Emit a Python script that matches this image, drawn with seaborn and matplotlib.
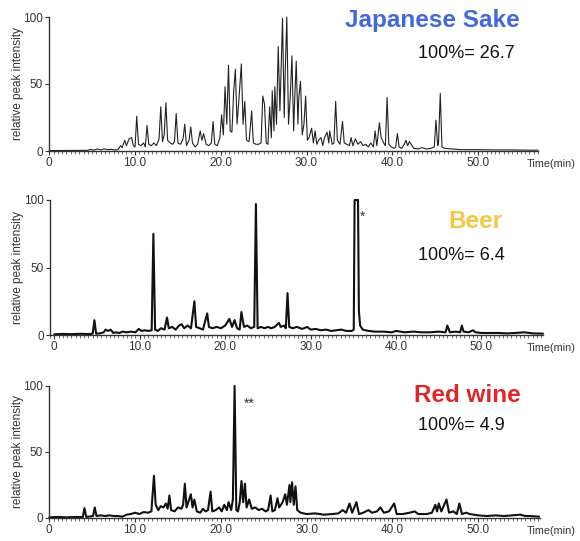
import numpy as np
import pandas as pd
import seaborn as sns
import matplotlib.pyplot as plt
from matplotlib.ticker import MultipleLocator

# retention time (min) and relative peak intensity (%)
sake_time = [0, 4.5, 4.8, 5.2, 5.6, 6.0, 6.4, 6.8, 7.2, 7.6, 8.0,
             8.3, 8.5, 8.8, 9.0, 9.3, 9.6, 9.8, 10.0, 10.2, 10.4,
             10.7, 11.0, 11.2, 11.4, 11.6, 11.9, 12.2, 12.5, 12.8,
             13.0, 13.2, 13.4, 13.6, 13.8, 14.1, 14.4, 14.6,
             14.8, 15.0, 15.3, 15.6, 15.8, 16.0, 16.3, 16.5, 16.7, 17.0, 17.3,
             17.6, 17.8, 18.0, 18.3, 18.6, 18.9, 19.1, 19.3, 19.6, 19.9,
             20.1, 20.3, 20.5, 20.7, 20.9, 21.1, 21.3, 21.5, 21.7, 21.9, 22.1,
             22.4, 22.6, 22.8, 23.0, 23.3, 23.6, 23.8, 24.1, 24.4, 24.7,
             24.9, 25.1, 25.3, 25.5, 25.7, 25.9, 26.0, 26.2, 26.3, 26.5,
             26.7, 26.9, 27.0, 27.2, 27.4, 27.5, 27.7, 27.9, 28.1, 28.3, 28.5,
             28.6, 28.8, 29.0, 29.1, 29.3, 29.5, 29.7, 29.9, 30.1, 30.3,
             30.6, 30.8, 31.0, 31.2, 31.4, 31.7, 31.9, 32.1, 32.4, 32.6, 32.7, 33.0,
             33.2, 33.4, 33.6, 33.9, 34.2, 34.4, 34.7, 35.0, 35.2, 35.4, 35.7,
             36.0, 36.3, 36.6, 36.9, 37.2, 37.5, 37.8, 38.0, 38.2, 38.5, 38.7,
             39.0, 39.2, 39.4, 39.6, 39.9, 40.2, 40.4, 40.6, 40.8, 41.1, 41.4,
             41.6, 41.8, 42.0, 42.5, 43.0, 43.5, 44.0, 44.5, 44.9,
             45.1, 45.3, 45.4, 45.6, 45.8, 46.1, 47, 48, 50, 52, 54, 56, 57]
sake_int = [0.3, 0.5, 1.2, 0.6, 1.5, 0.8, 1.6, 0.9, 1.3, 0.8, 1.0,
            4, 2.5, 8, 4, 9, 10, 4, 3, 26, 5,
            4, 6, 3, 19, 5, 4, 6, 4, 9,
            33, 7, 12, 36, 8, 6, 5, 7,
            28, 6, 5, 9, 20, 4, 8, 18, 6, 3, 5,
            15, 8, 13, 5, 4, 6, 22, 5, 4, 10,
            27, 12, 48, 20, 64, 15, 14, 44, 61, 20, 37,
            65, 20, 37, 8, 7, 30, 6, 5, 5, 6,
            41, 35, 6, 5, 33, 10, 45, 15, 48, 20,
            78, 30, 52, 99, 25, 55, 100, 20, 40, 71, 15,
            35, 67, 20, 40, 52, 12, 20, 41, 8, 10,
            17, 6, 15, 5, 8, 10, 4, 10, 14, 6, 15, 5,
            6, 37, 8, 5, 22, 6, 5, 4, 10, 4, 9,
            5, 7, 4, 5, 3, 6, 3, 15, 4, 21, 10,
            6, 4, 40, 5, 3, 2, 3, 13, 3, 2, 5,
            8, 4, 7, 2, 1.5, 2.5, 1.5, 2, 3,
            23, 4, 6, 43, 3, 2, 1.5, 1, 1, 0.8, 0.8, 0.6, 0.6]

beer_time = [0, 1, 2, 3, 4, 4.5, 4.7, 4.9, 5.3, 5.8, 6.0, 6.3, 6.6, 6.9, 7.2, 7.6,
             8.0, 8.5, 9.0, 9.5, 9.9, 10.2, 10.6, 11.0, 11.4, 11.6, 11.8, 12.1,
             12.5, 12.9, 13.2, 13.4, 13.8, 14.2, 14.6, 14.9, 15.2, 15.6, 16.0,
             16.4, 16.6, 17.0, 17.4, 17.9, 18.1, 18.5, 19.0, 19.5, 20.0, 20.5,
             20.8, 21.1, 21.4, 21.7, 21.9, 22.2, 22.6, 23.0, 23.4, 23.6, 23.8,
             24.2, 24.6, 25.0, 25.4, 25.8, 26.3, 26.5, 26.9, 27.1, 27.3, 27.5,
             27.9, 28.4, 29.0, 29.6, 30.0, 30.6, 31.2, 31.8, 32.4, 33.0, 33.6,
             34.2, 34.8, 35.05, 35.15, 35.55, 35.65, 35.8, 36.1, 36.8, 37.5, 38.5,
             39.5, 40.0, 41, 42, 43, 44, 45, 45.8, 46.0, 46.3, 47, 47.5, 47.7,
             47.9, 48.5, 49.0, 49.3, 50, 51, 52, 53, 54, 55, 56, 57.2]
beer_int = [0.5, 0.8, 0.6, 0.9, 0.7, 1.0, 11, 1.0, 1.2, 2, 4, 3, 4, 1.5, 2, 1.5,
            2.5, 2, 2.5, 2, 4.5, 3, 3.5, 3, 3.5, 75, 4, 3,
            5, 4, 13, 5, 6, 4, 7, 8, 5, 7, 5,
            25, 6, 5, 4, 16, 6, 5, 6, 5, 7, 12,
            6, 11, 5, 4, 17, 6, 7, 5, 6, 97, 5,
            6, 5, 6, 5, 6, 9, 6, 7, 5, 31, 6,
            5, 6, 4.5, 6, 4, 4.5, 3.5, 4, 3, 3.5, 4,
            3, 3, 4, 100, 100, 18, 7, 4, 3, 2.5, 2.5,
            2, 3, 2, 2.5, 2, 2, 2.5, 2, 7, 2, 2.5, 2, 7,
            2.5, 2, 3.5, 2, 1.5, 1.5, 1.5, 1.2, 1.5, 2, 1.2, 1]

wine_time = [0, 1, 2, 3, 3.9, 4.1, 4.3, 5.1, 5.3, 5.5, 6.0, 6.5, 7.0, 7.5, 8.0,
             8.5, 9.0, 9.5, 10.0, 10.5, 11.0, 11.5, 11.9, 12.2, 12.4, 12.7,
             13.0, 13.3, 13.6, 13.8, 14.0, 14.2, 14.6, 15.0, 15.4, 15.6, 15.8,
             16.0, 16.3, 16.5, 16.7, 16.9, 17.2, 17.6, 17.9, 18.2, 18.5, 18.8,
             19.0, 19.4, 19.8, 20.1, 20.4, 20.7, 20.9, 21.2, 21.4, 21.6, 21.8,
             22.0, 22.2, 22.4, 22.6, 22.8, 23.0, 23.3, 23.6, 24.0, 24.4, 24.8,
             25.2, 25.5, 25.8, 26.0, 26.3, 26.6, 26.8, 27.2, 27.5, 27.7, 28.0,
             28.1, 28.3, 28.5, 28.7, 28.9, 29.3, 30, 31, 32, 33, 33.7, 34.2,
             34.6, 35.0, 35.3, 35.8, 36.1, 36.6, 37.2, 37.6, 38.2, 38.6, 39.0,
             39.6, 40.2, 40.5, 41.2, 42, 42.6, 43, 44, 44.6, 45.0, 45.2, 45.4,
             45.7, 46.3, 46.6, 47.1, 47.5, 47.8, 48.1, 48.6, 49.0, 50, 51, 52,
             53, 54, 54.9, 55.5, 56, 57.1]
wine_int = [0.5, 0.8, 0.5, 0.8, 0.7, 7.5, 0.8, 1.5, 8, 1.5, 2, 1.5, 2, 1.5, 1.5,
            1, 2.5, 3, 4, 3, 4.5, 4, 5, 32, 10, 6,
            9, 8, 11, 7, 17, 6, 5, 8, 7, 10, 26,
            8, 14, 18, 8, 14, 5, 4, 7, 5, 6, 20,
            5, 6, 8, 5, 10, 6, 12, 6, 14, 100, 6,
            5, 12, 28, 12, 26, 8, 14, 7, 8, 6, 7,
            5, 6, 17, 5, 6, 15, 8, 12, 18, 10, 25,
            12, 27, 10, 24, 6, 4, 3, 3.5, 2.5, 3, 3.5, 6,
            4, 11, 4, 12, 3, 4, 6, 4, 5, 8, 4,
            5, 11, 3, 3, 4, 5, 3, 3, 4, 10, 5, 11,
            5, 14, 4, 5, 3, 11, 3, 4, 3, 2, 1.5, 2,
            1.5, 2, 2.5, 1.5, 1.5, 1]

sample_names = ["Japanese Sake", "Beer", "Red wine"]
scale_labels = ["100%= 26.7", "100%= 6.4", "100%= 4.9"]
x_ticks = [0, 10, 20, 30, 40, 50]
x_tick_labels = ["0", "10.0", "20.0", "30.0", "40.0", "50.0"]
y_ticks = [0, 50, 100]

sns.set_theme(style="white")
plt.rcParams["font.family"] = ["Liberation Sans", "DejaVu Sans"]

W, H = 580, 541
fig = plt.figure(figsize=(W / 100, H / 100), dpi=100)

# panel layout in pixels: left spine, right end, y of 0, y of 100, xlim
panels = [
    dict(t=sake_time, v=sake_int, left=49.3, right=538, y0=151, y100=17,
         xlim=(0, 57.0), lw=0.8, color="#222222"),
    dict(t=beer_time, v=beer_int, left=50, right=543, y0=335, y100=200,
         xlim=(-0.5, 57.2), lw=1.5, color="#111111"),
    dict(t=wine_time, v=wine_int, left=49.3, right=540, y0=518, y100=386,
         xlim=(0, 57.2), lw=1.5, color="#111111"),
]
title_colors = ["#4169d8", "#f3c744", "#e0262a"]
title_pos = [(432, 20), (475, 222), (467, 396)]
scale_pos = [(418, 53), (418, 255), (418, 425)]

for i, p in enumerate(panels):
    ax = fig.add_axes([p["left"] / W, 1 - p["y0"] / H,
                       (p["right"] - p["left"]) / W, (p["y0"] - p["y100"]) / H])
    df = pd.DataFrame({"time": p["t"], "intensity": p["v"]})
    sns.lineplot(data=df, x="time", y="intensity", ax=ax, sort=False,
                 estimator=None, color=p["color"], lw=p["lw"])
    for line in ax.lines:
        line.set_clip_on(False)
    ax.set_xlim(*p["xlim"])
    ax.set_ylim(0, 100)
    ax.set_xticks(x_ticks)
    ax.set_xticklabels(x_tick_labels)
    ax.set_yticks(y_ticks)
    ax.xaxis.set_minor_locator(MultipleLocator(0.5))
    ax.tick_params(axis="both", which="major", direction="out", length=3,
                   width=0.8, color="#333333", labelsize=8.5,
                   labelcolor="#333333", pad=1.5)
    ax.tick_params(axis="x", which="minor", direction="out", length=2,
                   width=0.6, color="#555555", bottom=True)
    ax.tick_params(axis="x", which="both", bottom=True)
    ax.tick_params(axis="y", left=True)
    for s in ["top", "right"]:
        ax.spines[s].set_visible(False)
    for s in ["left", "bottom"]:
        ax.spines[s].set_color("#333333")
        ax.spines[s].set_linewidth(1.0)
    ax.set_xlabel("")
    ax.set_ylabel("relative peak intensity", fontsize=8.5, color="#333333")
    ax.yaxis.set_label_coords(-0.052, 0.5)
    # axis unit label just past the right end of the time axis
    fig.text(527 / W, 1 - (p["y0"] + 13) / H, "Time(min)", fontsize=7.8,
             color="#333333", ha="left", va="center")

    tx, ty = title_pos[i]
    fig.text(tx / W, 1 - ty / H, sample_names[i], color=title_colors[i],
             fontsize=17.5, fontweight="bold", ha="center", va="center")
    sx, sy = scale_pos[i]
    fig.text(sx / W, 1 - sy / H, scale_labels[i], color="#111111",
             fontsize=13, ha="left", va="center")

# peak markers
fig.text(363 / W, 1 - 217 / H, "*", fontsize=10, color="#333333",
         ha="center", va="center")
fig.text(249 / W, 1 - 404 / H, "**", fontsize=10, color="#333333",
         ha="center", va="center")

fig.savefig("out.png", dpi=100)
